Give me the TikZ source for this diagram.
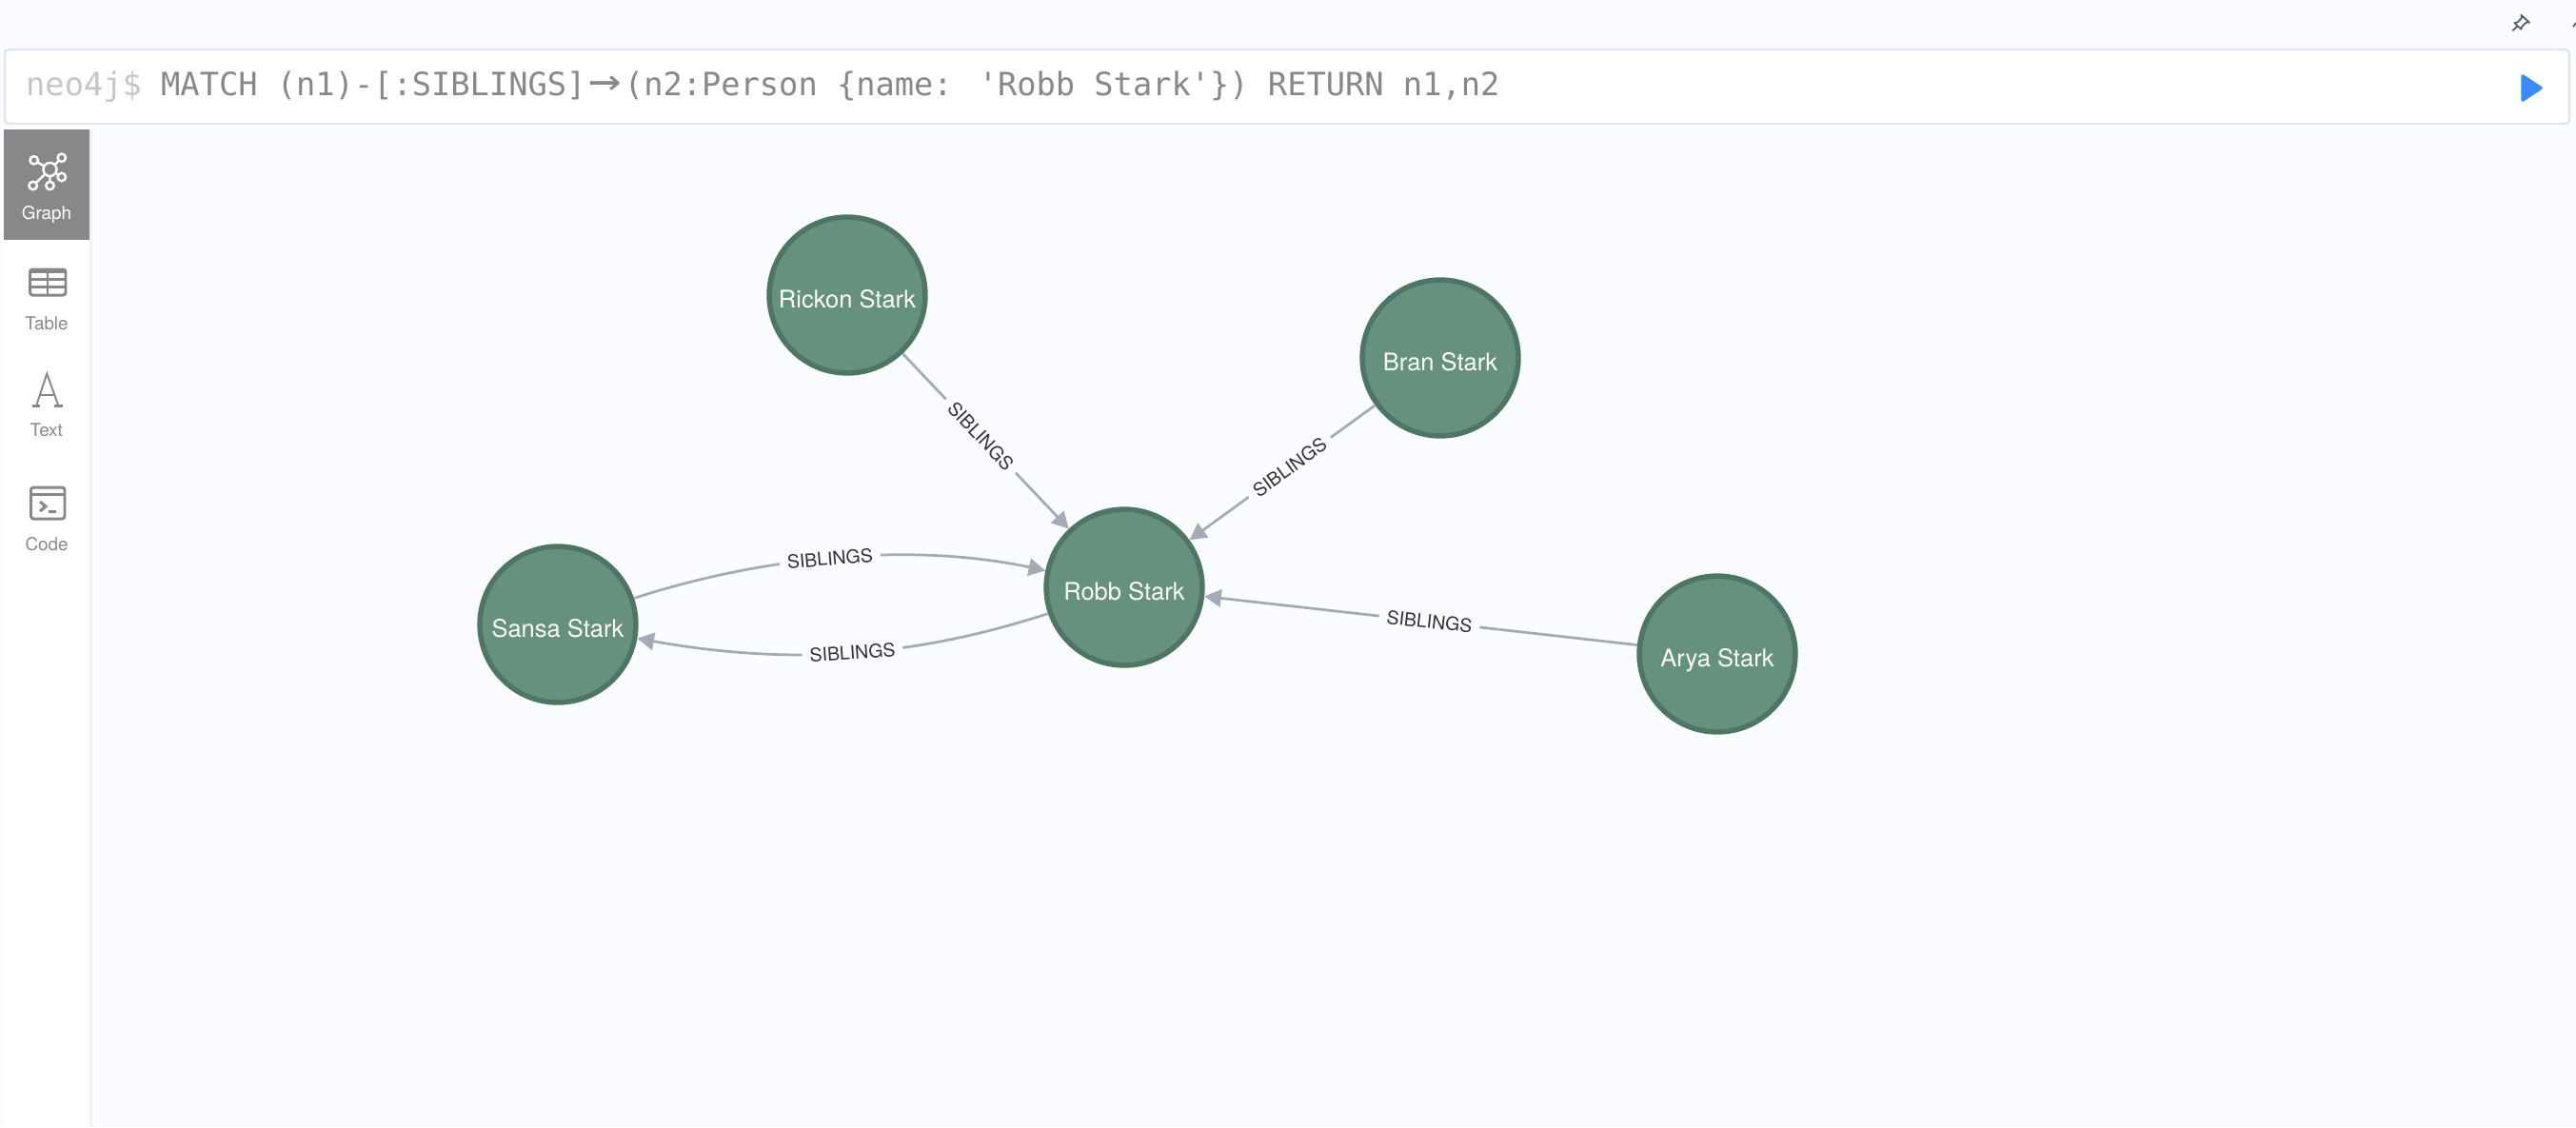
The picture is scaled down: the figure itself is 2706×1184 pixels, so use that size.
\documentclass[tikz,border=0pt]{standalone}
\usepackage{fontspec}
\setmainfont{TeX Gyre Heros}
\newfontfamily\queryfont{DejaVu Sans Mono}
\usepackage{tikz}
\usetikzlibrary{arrows.meta}
\definecolor{pagebg}{HTML}{FBFCFF}
\definecolor{personfill}{HTML}{65917E}
\definecolor{persondraw}{HTML}{4F7565}
\definecolor{reledge}{HTML}{A5ABB6}
\definecolor{sidegray}{HTML}{888888}
\definecolor{boxline}{HTML}{DDE6F1}
\definecolor{promptgray}{HTML}{C4C6CA}
\definecolor{playblue}{HTML}{3A8BF6}
\definecolor{pingray}{HTML}{555C66}
\tikzset{
	person/.style={circle, fill=personfill, draw=persondraw, line width=1.56pt,
		minimum size=46.6pt, inner sep=0pt, text=white, text height=7.5pt,
		text depth=0pt, font=\fontsize{7.25pt}{8pt}\selectfont}
}
\tikzset{
	rellabel/.style={fill=pagebg, inner ysep=0pt, inner xsep=2.3pt, sloped,
		text=black!80, font=\fontsize{5.55pt}{6pt}\selectfont}
}
\tikzset{
	every edge/.append style={line width=.78pt, draw=reledge}
}
\tikzset{
	sidelabel/.style={anchor=base, inner sep=0pt, text=sidegray,
		font=\fontsize{5.35pt}{6pt}\selectfont},
	querytext/.style={anchor=base west, inner sep=0pt,
		font=\queryfont\fontsize{9.58pt}{11pt}\selectfont},
	iconline/.style={draw=sidegray, line width=.85pt}
}

\begin{document}
\begin{tikzpicture}[x=.01cm, y=-.01cm, >={Triangle[length=5pt, width=5.2pt]}]
	\useasboundingbox (0,0) rectangle (2706,1184);
	\fill[pagebg] (0,0) rectangle (2706,1184);

	% query bar
	\draw[boxline, fill=white, line width=.7pt, rounded corners=1.2pt] (5,52) rectangle (2699,130);
	\node (prompt) [querytext, text=promptgray] at (26.5,100) {neo4j\$};
	\node (query) [querytext, text=sidegray] at (168.5,100) {MATCH (n1)-[:SIBLINGS]\makebox[1.204em]{\scalebox{1.7}[1.4]{→}}(n2:Person \{name: 'Robb Stark'\}) RETURN n1,n2};
	\fill[playblue, draw=playblue, line width=1pt, line join=round] (2650,80) -- (2669,92.5) -- (2650,105) -- cycle;

	% pin
	\draw[pingray, line width=.5pt, line join=round] (2641.3,24) -- (2644.7,23.3) -- (2649,18.7) -- (2648.3,15.7)
		-- (2657,23.7) -- (2654,23.3) -- (2649.3,27.7) -- (2648.3,30.7) -- cycle;
	\draw[pingray, line width=.5pt] (2639.3,32.3) -- (2644.5,27.5);
	\draw[pingray, line width=.5pt] (2703,28) -- (2706,24);

	% sidebar
	\fill[black!6] (94,136) rectangle (97,1184);
	\fill[white] (4,136) rectangle (94,1184);
	\fill[sidegray] (4,136) rectangle (94,252);

	% graph icon
	\draw[white, line width=.7pt] (35.7,168.3) -- (52.5,178) (64.8,165.7) -- (52.5,178) (64.8,186) -- (52.5,178)
		(52.5,195) -- (52.5,178) (34.7,195) -- (52.5,178);
	\foreach \cx/\cy in {35.7/168.3, 64.8/165.7, 64.8/186, 52.5/195, 34.7/195}
		\draw[white, fill=sidegray, line width=.7pt] (\cx,\cy) circle (4.2);
	\draw[white, fill=sidegray, line width=.7pt] (52.5,178) circle (7);
	\node (graphlabel) [sidelabel, text=white] at (49,230) {Graph};

	% table icon
	\draw[iconline, rounded corners=.8pt] (31.5,283) rectangle (69,310);
	\fill[sidegray] (31.5,283) rectangle (69,286.5);
	\draw[iconline] (31.5,293) -- (69,293) (31.5,301.3) -- (69,301.3) (50,283) -- (50,310);
	\node (tablelabel) [sidelabel] at (49,346) {Table};

	% text icon
	\draw[iconline, line width=.55pt] (38,426.7) -- (49.3,392.5) -- (61.5,426.7) (42,415) -- (57.5,415);
	\draw[iconline, line width=.7pt] (34,426.7) -- (42.3,426.7) (56.7,426.7) -- (66,426.7);
	\node (textlabel) [sidelabel] at (48.7,458) {Text};

	% code icon
	\draw[iconline, rounded corners=.8pt] (32.5,512) rectangle (68,545);
	\draw[iconline] (32.5,519) -- (68,519);
	\draw[iconline] (42,527) -- (48,532) -- (42,537);
	\draw[iconline] (50.5,537) -- (58.5,537);
	\node (codelabel) [sidelabel] at (49,578) {Code};

	% people
	\node (rickon) [person] at (890,310) {Rickon Stark};
	\node (bran) [person] at (1513,376) {Bran Stark};
	\node (robb) [person] at (1181,617) {Robb Stark};
	\node (sansa) [person] at (586,656) {Sansa Stark};
	\node (arya) [person] at (1804,687) {Arya Stark};

	\draw (rickon) edge [->] node [rellabel, pos=.47] {SIBLINGS} (robb);
	\draw (bran) edge [->] node [rellabel, pos=.46] {SIBLINGS} (robb);
	\draw (arya) edge [->] node [rellabel, pos=.48] {SIBLINGS} (robb);
	\draw (sansa.19) edge [->, out=18, in=168, looseness=.85] node [rellabel, pos=.48] {SIBLINGS} (robb.168);
	\draw (robb.199) edge [->, out=198, in=-10, looseness=.93] node [rellabel, pos=.48] {SIBLINGS} (sansa.-10);
\end{tikzpicture}
\end{document}
